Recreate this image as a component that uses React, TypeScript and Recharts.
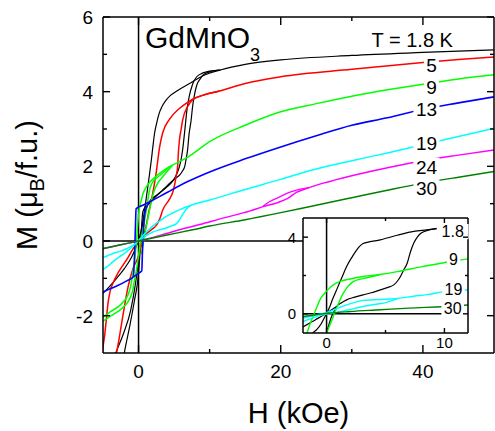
import React from 'react';
import {
  LineChart,
  Line,
  XAxis,
  YAxis,
  ReferenceLine,
  ReferenceDot,
  CartesianGrid,
} from 'recharts';

type Pt = [number, number]; // [H (kOe), M (μB/f.u.)]

const FONT = '"Liberation Sans", Arial, Helvetica, sans-serif';

// ---------- main panel: M(H) loops ----------
// 1.8 K
const t18Upper: Pt[] = [
  [-3.7, -3.3], [-3.2, -3.0], [-2.1, -2.47], [-1.1, -1.85], [-0.4, -1.1], [0.1, -0.35],
  [0.5, 0.3], [0.84, 0.83], [1.05, 1.1], [1.3, 1.45], [1.55, 1.8], [1.8, 2.17], [2.0, 2.5],
  [2.25, 2.88], [2.5, 3.12], [2.9, 3.42], [3.3, 3.6], [3.9, 3.78], [4.5, 3.9], [5.5, 4.03],
  [7.3, 4.23], [9, 4.42], [11.5, 4.58], [15, 4.73], [20, 4.85], [30, 4.97], [40, 5.05], [50, 5.12],
];
const t18Step: Pt[] = [
  [-2.25, -3.3], [-2.0, -3.0], [-1.26, -2.3], [-0.56, -1.58], [-0.1, -1.04], [0.2, -0.35],
  [0.4, 0.3], [0.6, 0.78], [1.0, 0.92], [1.5, 1.0], [2.2, 1.15], [2.9, 1.28], [3.7, 1.42],
  [4.4, 1.55], [5.2, 1.68], [5.8, 1.77], [6.2, 1.88], [6.5, 2.0], [6.7, 2.2], [6.9, 2.44],
  [7.1, 2.85], [7.4, 3.24], [7.6, 3.6], [7.9, 3.95], [8.2, 4.18], [8.7, 4.35], [9.1, 4.45],
  [10, 4.53], [11.5, 4.58],
];
const t18Virgin: Pt[] = [
  [-5, -1.4], [-4, -1.2], [-3, -0.98], [-2, -0.74], [-1, -0.44], [-0.3, -0.14], [0.2, 0.15],
  [0.7, 0.6], [1.5, 1.05], [2.95, 1.28], [4.0, 1.45], [4.8, 1.6], [5.5, 1.85], [5.75, 1.99],
  [6.0, 2.2], [6.2, 2.44], [6.5, 2.95], [6.8, 3.5], [7.1, 3.85], [7.6, 4.2], [8.5, 4.45],
  [10, 4.55], [11.5, 4.58],
];

// 5 K
const t5Upper: Pt[] = [
  [-3.5, -3.3], [-3.1, -3.0], [-2.2, -2.0], [-1.5, -1.25], [-0.8, -0.75], [0, -0.4],
  [0.5, -0.05], [1.0, 0.35], [1.5, 0.83], [2.0, 1.28], [2.25, 1.55], [2.5, 1.85], [2.7, 2.15],
  [2.95, 2.5], [3.4, 2.9], [4.35, 3.26], [5.75, 3.55], [6.5, 3.66], [7.6, 3.8], [9, 3.9],
  [11.4, 4.02], [15, 4.22], [20, 4.4], [30, 4.6], [40, 4.78], [45, 4.86], [50, 4.93],
];
const t5Step: Pt[] = [
  [-5.2, -3.3], [-5, -2.85], [-4.75, -2.5], [-4.5, -2.05], [-4.3, -1.67], [-4.0, -1.35],
  [-3.6, -1.13], [-3.1, -0.93], [-2.65, -0.78], [-1.6, -0.48], [-0.8, -0.22], [0, 0.0],
  [1.0, 0.18], [2.0, 0.33], [2.5, 0.42], [3.0, 0.6], [3.4, 0.83], [4.35, 1.12], [4.8, 1.3],
  [5.05, 1.48], [5.3, 1.75], [5.5, 2.0], [5.6, 2.35], [5.75, 2.7], [6.0, 3.0], [6.2, 3.24],
  [6.9, 3.6], [7.6, 3.78], [9, 3.9], [11.4, 4.02],
];

// 9 K
const t9Upper: Pt[] = [
  [-5, -2.05], [-4, -1.9], [-3, -1.78], [-2.1, -1.62], [-1.5, -1.45], [-1.1, -1.2], [-0.8, -0.85],
  [-0.5, -0.45], [-0.3, 0.0], [-0.1, 0.5], [0.15, 0.92], [0.4, 1.1], [0.6, 1.25], [1.1, 1.45],
  [1.7, 1.6], [2.5, 1.74], [3.4, 1.87], [4.35, 1.99], [5.5, 2.1], [7.2, 2.28], [10, 2.66],
  [15, 3.1], [20, 3.46], [25, 3.68], [30, 3.88], [35, 4.05], [40, 4.2], [45, 4.34], [50, 4.45],
];
const t9Step: Pt[] = [
  [-5, -2.15], [-4, -2.02], [-3, -1.9], [-2, -1.75], [-1.26, -1.55], [-0.8, -1.31],
  [-0.56, -1.04], [-0.3, -0.78], [0, -0.4], [0.3, 0.0], [0.7, 0.4], [1.1, 0.83], [1.35, 1.15],
  [1.55, 1.37], [2.0, 1.58], [2.5, 1.68], [3.4, 1.82], [4.35, 1.99],
];
const t9Step2: Pt[] = [
  [0.4, -0.35], [0.7, 0.0], [1.1, 0.4], [1.55, 0.83], [1.9, 1.15], [2.25, 1.37], [2.8, 1.58],
  [3.4, 1.72], [4.0, 1.86], [4.8, 2.03],
];

// 13 K
const t13Down: Pt[] = [
  [-5, -1.37], [-4, -1.28], [-3, -1.2], [-1.6, -1.06], [-0.73, -0.96], [-0.55, -0.3],
  [-0.42, 0.5], [-0.35, 0.86], [0.5, 0.95], [1.6, 1.05], [4, 1.3], [7, 1.6], [10, 1.85],
  [15, 2.2], [20, 2.52], [25, 2.82], [30, 3.1], [35, 3.3], [40, 3.53], [45, 3.7], [50, 3.86],
];
const t13Up: Pt[] = [
  [-0.73, -0.96], [0.2, -0.84], [0.45, -0.8], [0.55, -0.3], [0.7, 0.3], [0.85, 0.7],
  [1.1, 0.9], [1.6, 1.03],
];

// 19 K
const t19Down: Pt[] = [
  [-5, -0.44], [-4.2, -0.38], [-3.5, -0.33], [-2.5, -0.27], [-1.6, -0.2], [-0.5, -0.08],
  [0.2, 0.05], [0.8, 0.18], [1.6, 0.33], [2.2, 0.43], [3, 0.54], [3.9, 0.66], [4.8, 0.75],
  [5.8, 0.84], [7, 0.93], [8.6, 1.03], [10, 1.1], [15, 1.38], [20, 1.65], [24, 1.88],
  [30, 2.15], [35, 2.36], [40, 2.58], [45, 2.8], [50, 3.02],
];
const t19Up: Pt[] = [
  [-5, -0.76], [-4.5, -0.7], [-3.5, -0.54], [-2.5, -0.4], [-1.6, -0.28], [-0.7, -0.12],
  [0, 0.0], [1, 0.13], [2, 0.24], [3, 0.3], [3.9, 0.35], [4.6, 0.4], [5.3, 0.46], [5.8, 0.58],
  [6.3, 0.74], [6.8, 0.87], [7.3, 0.95],
];

// 24 K
const t24Main: Pt[] = [
  [-5, -0.21], [-2.5, -0.1], [0, 0], [3, 0.15], [5.75, 0.3], [8.6, 0.44], [12, 0.62],
  [15.6, 0.8], [17.5, 0.92], [19.4, 1.02], [21, 1.14], [22.2, 1.3], [24, 1.43], [26, 1.55],
  [30, 1.75], [35, 1.96], [40, 2.15], [45, 2.3], [50, 2.44],
];
const t24Loop: Pt[] = [[17.5, 0.93], [18.4, 1.05], [19.5, 1.15], [21.2, 1.3], [22.6, 1.38], [24, 1.43]];

// 30 K
const t30Main: Pt[] = [
  [-5, -0.2], [-2.5, -0.1], [0, 0], [4, 0.16], [7.6, 0.3], [10, 0.4], [15, 0.57], [20, 0.76],
  [24, 0.92], [30, 1.16], [35, 1.36], [40, 1.55], [45, 1.71], [50, 1.86],
];

// ---------- inset: low-field detail ----------
const in18Down: Pt[] = [
  [-1.4, -1.2], [-1.15, -1.0], [-0.8, -0.8], [-0.43, -0.49], [-0.1, -0.1], [0.28, 0.38],
  [0.5, 0.75], [0.85, 1.25], [1.3, 1.9], [1.7, 2.47], [2.2, 3.0], [2.56, 3.34], [2.8, 3.52],
  [3.1, 3.67], [3.6, 3.75], [4.55, 3.86], [6, 4.1], [7.4, 4.3], [8.5, 4.38], [9.7, 4.47],
];
const in18Up: Pt[] = [
  [-0.1, -1.2], [0, -1.0], [0.2, -0.55], [0.45, -0.1], [0.7, 0.2], [0.85, 0.38], [1.2, 0.55],
  [1.7, 0.73], [2.4, 0.87], [3.1, 0.99], [3.8, 1.1], [4.55, 1.25], [5.2, 1.38], [5.7, 1.51],
  [6.0, 1.7], [6.27, 1.95], [6.55, 2.3], [6.84, 2.64], [7.1, 3.2], [7.4, 3.69], [7.7, 4.0],
  [8, 4.2], [8.7, 4.38], [9.7, 4.47],
];
const in18Low: Pt[] = [
  [-2, -0.68], [-1.5, -0.5], [-1, -0.33], [-0.5, -0.15], [0, 0.03], [0.4, 0.2], [0.85, 0.38],
];
const in9Down: Pt[] = [
  [-1.7, -1.1], [-1.57, -0.83], [-1.15, -0.14], [-0.85, 0.3], [-0.57, 0.73], [-0.2, 1.05],
  [0.1, 1.25], [0.57, 1.51], [1.14, 1.69], [2, 1.82], [3.1, 1.95], [4.5, 2.05], [6, 2.2],
  [8, 2.45], [9.7, 2.64], [11, 2.78], [12, 2.87],
];
const in9Up: Pt[] = [
  [-0.1, -1.1], [0, -1.0], [0.3, -0.55], [0.57, -0.14], [0.85, 0.3], [1.14, 0.73], [1.4, 1.05],
  [1.7, 1.34], [2.0, 1.55], [2.3, 1.69], [2.8, 1.8], [3.4, 1.88], [4.5, 2.04],
];
const in19Down: Pt[] = [
  [-2, -0.23], [-1.15, -0.1], [-0.5, 0.0], [0.28, 0.12], [0.9, 0.28], [1.7, 0.47], [2.4, 0.6],
  [3.1, 0.7], [4.5, 0.75], [6, 0.8], [7.4, 0.92], [8.5, 1.0], [10, 1.16], [12, 1.24],
];
const in19Up: Pt[] = [
  [-2, -0.4], [-1.2, -0.22], [-0.5, -0.08], [0.57, 0.04], [1.8, 0.2], [3.1, 0.38], [4.2, 0.5],
  [5.1, 0.6], [5.6, 0.7], [6, 0.8],
];
const in30: Pt[] = [
  [-2, -0.14], [-1, -0.06], [0.28, 0.04], [2, 0.12], [4.55, 0.21], [7, 0.3], [10, 0.38], [12, 0.46],
];

// curve tags (temperatures in K)
const mainTagText = ['5', '9', '13', '19', '24', '30'];
const mainTagH = [41.2, 41.2, 40.5, 40.5, 40.5, 40.5];
const mainTagM = [4.71, 4.13, 3.54, 2.62, 1.99, 1.41];
const insetTagText = ['1.8', '9', '19', '30'];
const insetTagH = [10.7, 10.77, 10.77, 10.7];
const insetTagM = [4.29, 2.85, 1.28, 0.3];

// axis ticks
const mainXTicks = [0, 10, 20, 30, 40];
const mainXLabels = [0, 20, 40];
const mainYTicks = [-2, -1, 0, 1, 2, 3, 4, 5, 6];
const mainYLabels = [-2, 0, 2, 4, 6];
const insetXTicks = [0, 5, 10];
const insetXLabels = [0, 10];
const insetYTicks = [0, 2, 4];
const insetYLabels = [0, 4];

const BLACK = '#000000';
const RED = '#ff0000';
const GREEN = '#00ff00';
const BLUE = '#0000ff';
const CYAN = '#00ffff';
const MAGENTA = '#ff00ff';
const DKGREEN = '#008000';

const rows = (pts: Pt[]) =>
  [...pts].sort((a, b) => a[0] - b[0]).map(([h, m]) => ({ h, m }));

const mainSeries = [
  { pts: t18Virgin, color: BLACK, w: 1.2 },
  { pts: t18Step, color: BLACK, w: 1.2 },
  { pts: t18Upper, color: BLACK, w: 1.2 },
  { pts: t5Step, color: RED, w: 1.5 },
  { pts: t5Upper, color: RED, w: 1.5 },
  { pts: t9Step2, color: GREEN, w: 1.5 },
  { pts: t9Step, color: GREEN, w: 1.5 },
  { pts: t9Upper, color: GREEN, w: 1.5 },
  { pts: t13Up, color: BLUE, w: 1.6 },
  { pts: t13Down, color: BLUE, w: 1.6 },
  { pts: t19Up, color: CYAN, w: 1.5 },
  { pts: t19Down, color: CYAN, w: 1.5 },
  { pts: t24Loop, color: MAGENTA, w: 1.3 },
  { pts: t24Main, color: MAGENTA, w: 1.5 },
  { pts: t30Main, color: DKGREEN, w: 1.5 },
];

const insetSeries = [
  { pts: in18Low, color: BLACK, w: 1.2 },
  { pts: in18Up, color: BLACK, w: 1.2 },
  { pts: in18Down, color: BLACK, w: 1.2 },
  { pts: in9Up, color: GREEN, w: 1.4 },
  { pts: in9Down, color: GREEN, w: 1.4 },
  { pts: in19Up, color: CYAN, w: 1.4 },
  { pts: in19Down, color: CYAN, w: 1.4 },
  { pts: in30, color: DKGREEN, w: 1.4 },
];

type Side = 'bottom' | 'top' | 'left' | 'right';

// Inward tick marks (long on labelled values) plus optional labels outside the frame.
const makeTick = (
  side: Side,
  labelled: number[],
  majorLen: number,
  minorLen: number,
  fontSize: number,
  gap: number,
) => {
  const TickMark = (props: any) => {
    const { x, y, payload } = props;
    const v = payload?.value as number;
    const show = labelled.includes(v);
    const len = show ? majorLen : minorLen;
    const stroke = { stroke: '#000', strokeWidth: 1.4 };
    let mark: React.ReactNode = null;
    let text: React.ReactNode = null;
    if (side === 'bottom') {
      mark = <line x1={x} y1={y} x2={x} y2={y - len} {...stroke} />;
      if (show)
        text = (
          <text x={x} y={y + gap} textAnchor="middle" fontSize={fontSize} fontFamily={FONT} fill="#000">
            {String(v)}
          </text>
        );
    } else if (side === 'top') {
      mark = <line x1={x} y1={y} x2={x} y2={y + len} {...stroke} />;
    } else if (side === 'left') {
      mark = <line x1={x} y1={y} x2={x + len} y2={y} {...stroke} />;
      if (show)
        text = (
          <text x={x - gap} y={y + fontSize * 0.36} textAnchor="end" fontSize={fontSize} fontFamily={FONT} fill="#000">
            {String(v)}
          </text>
        );
    } else {
      mark = <line x1={x} y1={y} x2={x - len} y2={y} {...stroke} />;
    }
    return (
      <g>
        {mark}
        {text}
      </g>
    );
  };
  return TickMark;
};

const XTitle = (props: any) => {
  const vb = props.viewBox || { x: 103, y: 353, width: 391, height: 78 };
  return (
    <text x={vb.x + vb.width / 2} y={vb.y + 70} textAnchor="middle" fontSize={29} fontFamily={FONT} fill="#000">
      H (kOe)
    </text>
  );
};

const YTitle = (props: any) => {
  const vb = props.viewBox || { x: 0, y: 17, width: 103, height: 336 };
  const cx = vb.x + 37;
  const cy = vb.y + vb.height / 2;
  return (
    <text
      x={cx}
      y={cy}
      transform={`rotate(-90, ${cx}, ${cy})`}
      textAnchor="middle"
      fontSize={29}
      fontFamily={FONT}
      fill="#000"
    >
      M (μ
      <tspan fontSize={20} dy={7}>
        B
      </tspan>
      <tspan dy={-7}>/f.u.)</tspan>
    </text>
  );
};

const tagShape = (text: string, size: number, boxed: boolean) => (p: any) => {
  const { cx, cy } = p;
  const w = text.length * size * 0.58 + 4;
  const h = size * 0.95;
  return (
    <g>
      {boxed && <rect x={cx - w / 2} y={cy - h / 2} width={w} height={h} fill="#fff" />}
      <text x={cx} y={cy + size * 0.36} textAnchor="middle" fontSize={size} fontFamily={FONT} fill="#000">
        {text}
      </text>
    </g>
  );
};

const titleShape = (p: any) => {
  const { cx, cy } = p;
  return (
    <text x={cx} y={cy} fontSize={30} fontFamily={FONT} fill="#000">
      GdMnO
      <tspan fontSize={18} dy={13}>
        3
      </tspan>
    </text>
  );
};

const axisLine = { stroke: '#000', strokeWidth: 1.5 };

function MainPanel() {
  return (
    <LineChart width={495} height={431} margin={{ top: 0, right: 0, bottom: 0, left: 0 }}>
      <XAxis
        xAxisId="b"
        orientation="bottom"
        dataKey="h"
        type="number"
        domain={[-5, 50]}
        allowDataOverflow
        ticks={mainXTicks}
        interval={0}
        height={78}
        tickSize={0}
        tickMargin={0}
        tickLine={false}
        axisLine={axisLine}
        tick={makeTick('bottom', mainXLabels, 8, 4, 19, 25)}
        label={XTitle}
      />
      <XAxis
        xAxisId="t"
        orientation="top"
        dataKey="h"
        type="number"
        domain={[-5, 50]}
        allowDataOverflow
        ticks={mainXTicks}
        interval={0}
        height={17}
        tickSize={0}
        tickMargin={0}
        tickLine={false}
        axisLine={axisLine}
        tick={makeTick('top', mainXLabels, 8, 4, 19, 0)}
      />
      <YAxis
        yAxisId="l"
        orientation="left"
        type="number"
        domain={[-3, 6]}
        allowDataOverflow
        ticks={mainYTicks}
        interval={0}
        width={103}
        tickSize={0}
        tickMargin={0}
        tickLine={false}
        axisLine={axisLine}
        tick={makeTick('left', mainYLabels, 7, 4, 19, 10)}
        label={YTitle}
      />
      <YAxis
        yAxisId="r"
        orientation="right"
        type="number"
        domain={[-3, 6]}
        allowDataOverflow
        ticks={mainYTicks}
        interval={0}
        width={1}
        tickSize={0}
        tickMargin={0}
        tickLine={false}
        axisLine={axisLine}
        tick={makeTick('right', mainYLabels, 7, 4, 19, 0)}
      />
      <ReferenceLine xAxisId="b" yAxisId="l" x={0} stroke="#000" strokeWidth={1.5} />
      <ReferenceLine
        xAxisId="b"
        yAxisId="l"
        segment={[
          { x: -5, y: 0 },
          { x: 30, y: 0 },
        ]}
        stroke="#000"
        strokeWidth={1.5}
      />
      {mainSeries.map((s, i) => (
        <Line
          key={i}
          xAxisId="b"
          yAxisId="l"
          data={rows(s.pts)}
          dataKey="m"
          type="monotoneX"
          stroke={s.color}
          strokeWidth={s.w}
          dot={false}
          activeDot={false}
          isAnimationActive={false}
        />
      ))}
      <ReferenceDot xAxisId="b" yAxisId="l" x={0.9} y={5.17} r={0} ifOverflow="visible" shape={titleShape} />
      <ReferenceDot
        xAxisId="b"
        yAxisId="l"
        x={38.5}
        y={5.38}
        r={0}
        ifOverflow="visible"
        shape={tagShape('T = 1.8 K', 20, false)}
      />
      {mainTagText.map((t, i) => (
        <ReferenceDot
          key={t}
          xAxisId="b"
          yAxisId="l"
          x={mainTagH[i]}
          y={mainTagM[i]}
          r={0}
          ifOverflow="visible"
          shape={tagShape(t, 19, true)}
        />
      ))}
    </LineChart>
  );
}

function InsetPanel() {
  return (
    <LineChart width={190} height={140} margin={{ top: 0, right: 0, bottom: 0, left: 0 }}>
      <CartesianGrid xAxisId="b" yAxisId="l" fill="#fff" horizontal={false} vertical={false} />
      <XAxis
        xAxisId="b"
        orientation="bottom"
        dataKey="h"
        type="number"
        domain={[-2, 12]}
        allowDataOverflow
        ticks={insetXTicks}
        interval={0}
        height={20}
        tickSize={0}
        tickMargin={0}
        tickLine={false}
        axisLine={axisLine}
        tick={makeTick('bottom', insetXLabels, 5, 3, 15, 15)}
      />
      <XAxis
        xAxisId="t"
        orientation="top"
        dataKey="h"
        type="number"
        domain={[-2, 12]}
        allowDataOverflow
        ticks={insetXTicks}
        interval={0}
        height={5}
        tickSize={0}
        tickMargin={0}
        tickLine={false}
        axisLine={axisLine}
        tick={makeTick('top', insetXLabels, 5, 3, 15, 0)}
      />
      <YAxis
        yAxisId="l"
        orientation="left"
        type="number"
        domain={[-1, 5]}
        allowDataOverflow
        ticks={insetYTicks}
        interval={0}
        width={23}
        tickSize={0}
        tickMargin={0}
        tickLine={false}
        axisLine={axisLine}
        tick={makeTick('left', insetYLabels, 5, 3, 15, 7)}
      />
      <YAxis
        yAxisId="r"
        orientation="right"
        type="number"
        domain={[-1, 5]}
        allowDataOverflow
        ticks={insetYTicks}
        interval={0}
        width={2}
        tickSize={0}
        tickMargin={0}
        tickLine={false}
        axisLine={axisLine}
        tick={makeTick('right', insetYLabels, 5, 3, 15, 0)}
      />
      <ReferenceLine xAxisId="b" yAxisId="l" x={0} stroke="#000" strokeWidth={1.5} />
      <ReferenceLine
        xAxisId="b"
        yAxisId="l"
        segment={[
          { x: -2, y: 0 },
          { x: 10, y: 0 },
        ]}
        stroke="#000"
        strokeWidth={1.5}
      />
      {insetSeries.map((s, i) => (
        <Line
          key={i}
          xAxisId="b"
          yAxisId="l"
          data={rows(s.pts)}
          dataKey="m"
          type="monotoneX"
          stroke={s.color}
          strokeWidth={s.w}
          dot={false}
          activeDot={false}
          isAnimationActive={false}
        />
      ))}
      {insetTagText.map((t, i) => (
        <ReferenceDot
          key={t}
          xAxisId="b"
          yAxisId="l"
          x={insetTagH[i]}
          y={insetTagM[i]}
          r={0}
          ifOverflow="visible"
          shape={tagShape(t, 16, true)}
        />
      ))}
    </LineChart>
  );
}

export default function App() {
  return (
    <div style={{ position: 'absolute', left: 0, top: 0, width: 495, height: 431, background: '#fff' }}>
      <div style={{ position: 'absolute', left: 0, top: 0 }}>
        <MainPanel />
      </div>
      <div style={{ position: 'absolute', left: 280, top: 213 }}>
        <InsetPanel />
      </div>
    </div>
  );
}
